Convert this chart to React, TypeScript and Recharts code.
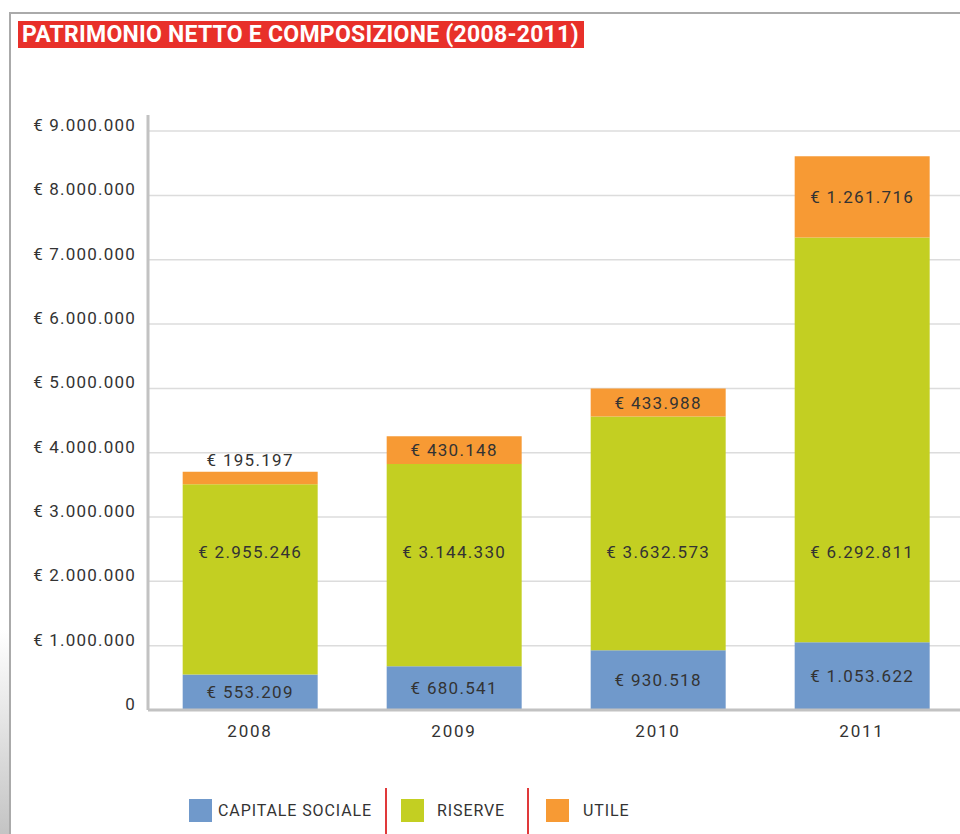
import { BarChart, Bar, XAxis, YAxis, CartesianGrid, LabelList } from "recharts"

const years = ["2008", "2009", "2010", "2011"]
const capitaleSociale = [553209, 680541, 930518, 1053622]
const riserve = [2955246, 3144330, 3632573, 6292811]
const utile = [195197, 430148, 433988, 1261716]
const yTicks = [0, 1000000, 2000000, 3000000, 4000000, 5000000, 6000000, 7000000, 8000000, 9000000]

const BLUE = "#7099cb"
const GREEN = "#c3cf22"
const ORANGE = "#f79a34"
const FONT = "Roboto, 'DejaVu Sans', sans-serif"

// plot geometry
const CHART_H = 834
const TOP = 115
const X_AXIS_H = 30
const BOTTOM_MARGIN = 94
const PLOT_BOTTOM = CHART_H - X_AXIS_H - BOTTOM_MARGIN

const data = years.map((y, i) => ({
  year: y,
  capitale: capitaleSociale[i],
  riserve: riserve[i],
  utile: utile[i],
}))

const fmt = (v: number) => String(v).replace(/\B(?=(\d{3})+(?!\d))/g, ".")
const euro = (v: number) => (v === 0 ? "0" : `€ ${fmt(v)}`)

const labelText = (x: number, y: number, value: number) => (
  <text
    x={x}
    y={y}
    textAnchor="middle"
    dominantBaseline="central"
    fontFamily={FONT}
    fontSize={17}
    letterSpacing={1.3}
    fill="#333"
  >
    {euro(value)}
  </text>
)

const centerLabel = (props: any) => {
  const { x, y, width, height, value } = props
  return labelText(x + width / 2, y + height / 2, value)
}

const riserveLabel = (props: any) => {
  const { x, width, value } = props
  return labelText(x + width / 2, PLOT_BOTTOM - 158, value)
}

const utileLabel = (props: any) => {
  const { x, y, width, height, value } = props
  if (height < 22) return labelText(x + width / 2, y - 12, value)
  return labelText(x + width / 2, y + height / 2, value)
}

const legendItems = [
  { name: "CAPITALE SOCIALE", color: BLUE, left: 189, textLeft: 218 },
  { name: "RISERVE", color: GREEN, left: 401, textLeft: 437 },
  { name: "UTILE", color: ORANGE, left: 546, textLeft: 583 },
]

export default function App() {
  return (
    <div
      style={{
        position: "absolute",
        left: 0,
        top: 0,
        width: 960,
        height: 834,
        overflow: "hidden",
        background: "#fff",
        fontFamily: FONT,
      }}
    >
      <div
        style={{
          position: "absolute",
          left: 9,
          top: 12,
          width: 1000,
          height: 900,
          borderTop: "2px solid #aaa",
          borderLeft: "2px solid #aaa",
        }}
      />
      <div
        style={{
          position: "absolute",
          left: 0,
          top: 630,
          width: 9,
          height: 204,
          background: "linear-gradient(to bottom, rgba(200,200,200,0), #c4c4c4)",
        }}
      />
      <div
        style={{
          position: "absolute",
          left: 18,
          top: 21,
          width: 566,
          height: 27,
          background: "#e8302a",
          color: "#fff",
          fontWeight: 700,
          fontSize: 23,
          lineHeight: "27px",
          paddingLeft: 4,
          boxSizing: "border-box",
          whiteSpace: "nowrap",
          letterSpacing: 0.25,
        }}
      >
        PATRIMONIO NETTO E COMPOSIZIONE (2008-2011)
      </div>

      <div style={{ position: "absolute", left: 0, top: 0 }}>
        <BarChart
          width={964}
          height={CHART_H}
          data={data}
          margin={{ top: TOP, right: 0, bottom: BOTTOM_MARGIN, left: 0 }}
          barCategoryGap="17%"
        >
          <CartesianGrid
            horizontal
            vertical={false}
            horizontalValues={yTicks}
            stroke="#dcdcdc"
            strokeWidth={1.5}
          />
          <XAxis
            dataKey="year"
            height={X_AXIS_H}
            axisLine={{ stroke: "#c2c2c2", strokeWidth: 3 }}
            tickLine={false}
            tickMargin={9}
            tick={{ fill: "#333", fontSize: 17, fontFamily: FONT, letterSpacing: 1.8 }}
          />
          <YAxis
            width={148}
            domain={[0, 9250000]}
            ticks={yTicks}
            interval={0}
            tickFormatter={euro}
            axisLine={{ stroke: "#c2c2c2", strokeWidth: 3 }}
            tickLine={false}
            tickMargin={6}
            tick={{ fill: "#333", fontSize: 17, fontFamily: FONT, letterSpacing: 1.2, dy: -6 }}
          />
          <Bar dataKey="capitale" stackId="a" fill={BLUE} isAnimationActive={false}>
            <LabelList dataKey="capitale" content={centerLabel} />
          </Bar>
          <Bar dataKey="riserve" stackId="a" fill={GREEN} isAnimationActive={false}>
            <LabelList dataKey="riserve" content={riserveLabel} />
          </Bar>
          <Bar dataKey="utile" stackId="a" fill={ORANGE} isAnimationActive={false}>
            <LabelList dataKey="utile" content={utileLabel} />
          </Bar>
        </BarChart>
      </div>

      {legendItems.map((it) => (
        <div key={it.name}>
          <div
            style={{
              position: "absolute",
              left: it.left,
              top: 799,
              width: 23,
              height: 23,
              background: it.color,
            }}
          />
          <div
            style={{
              position: "absolute",
              left: it.textLeft,
              top: 801,
              fontSize: 16,
              lineHeight: "20px",
              color: "#333",
              letterSpacing: 0.9,
              whiteSpace: "nowrap",
            }}
          >
            {it.name}
          </div>
        </div>
      ))}
      <div style={{ position: "absolute", left: 385, top: 788, width: 1.5, height: 46, background: "#e0393a" }} />
      <div style={{ position: "absolute", left: 527, top: 788, width: 1.5, height: 46, background: "#e0393a" }} />
    </div>
  )
}
